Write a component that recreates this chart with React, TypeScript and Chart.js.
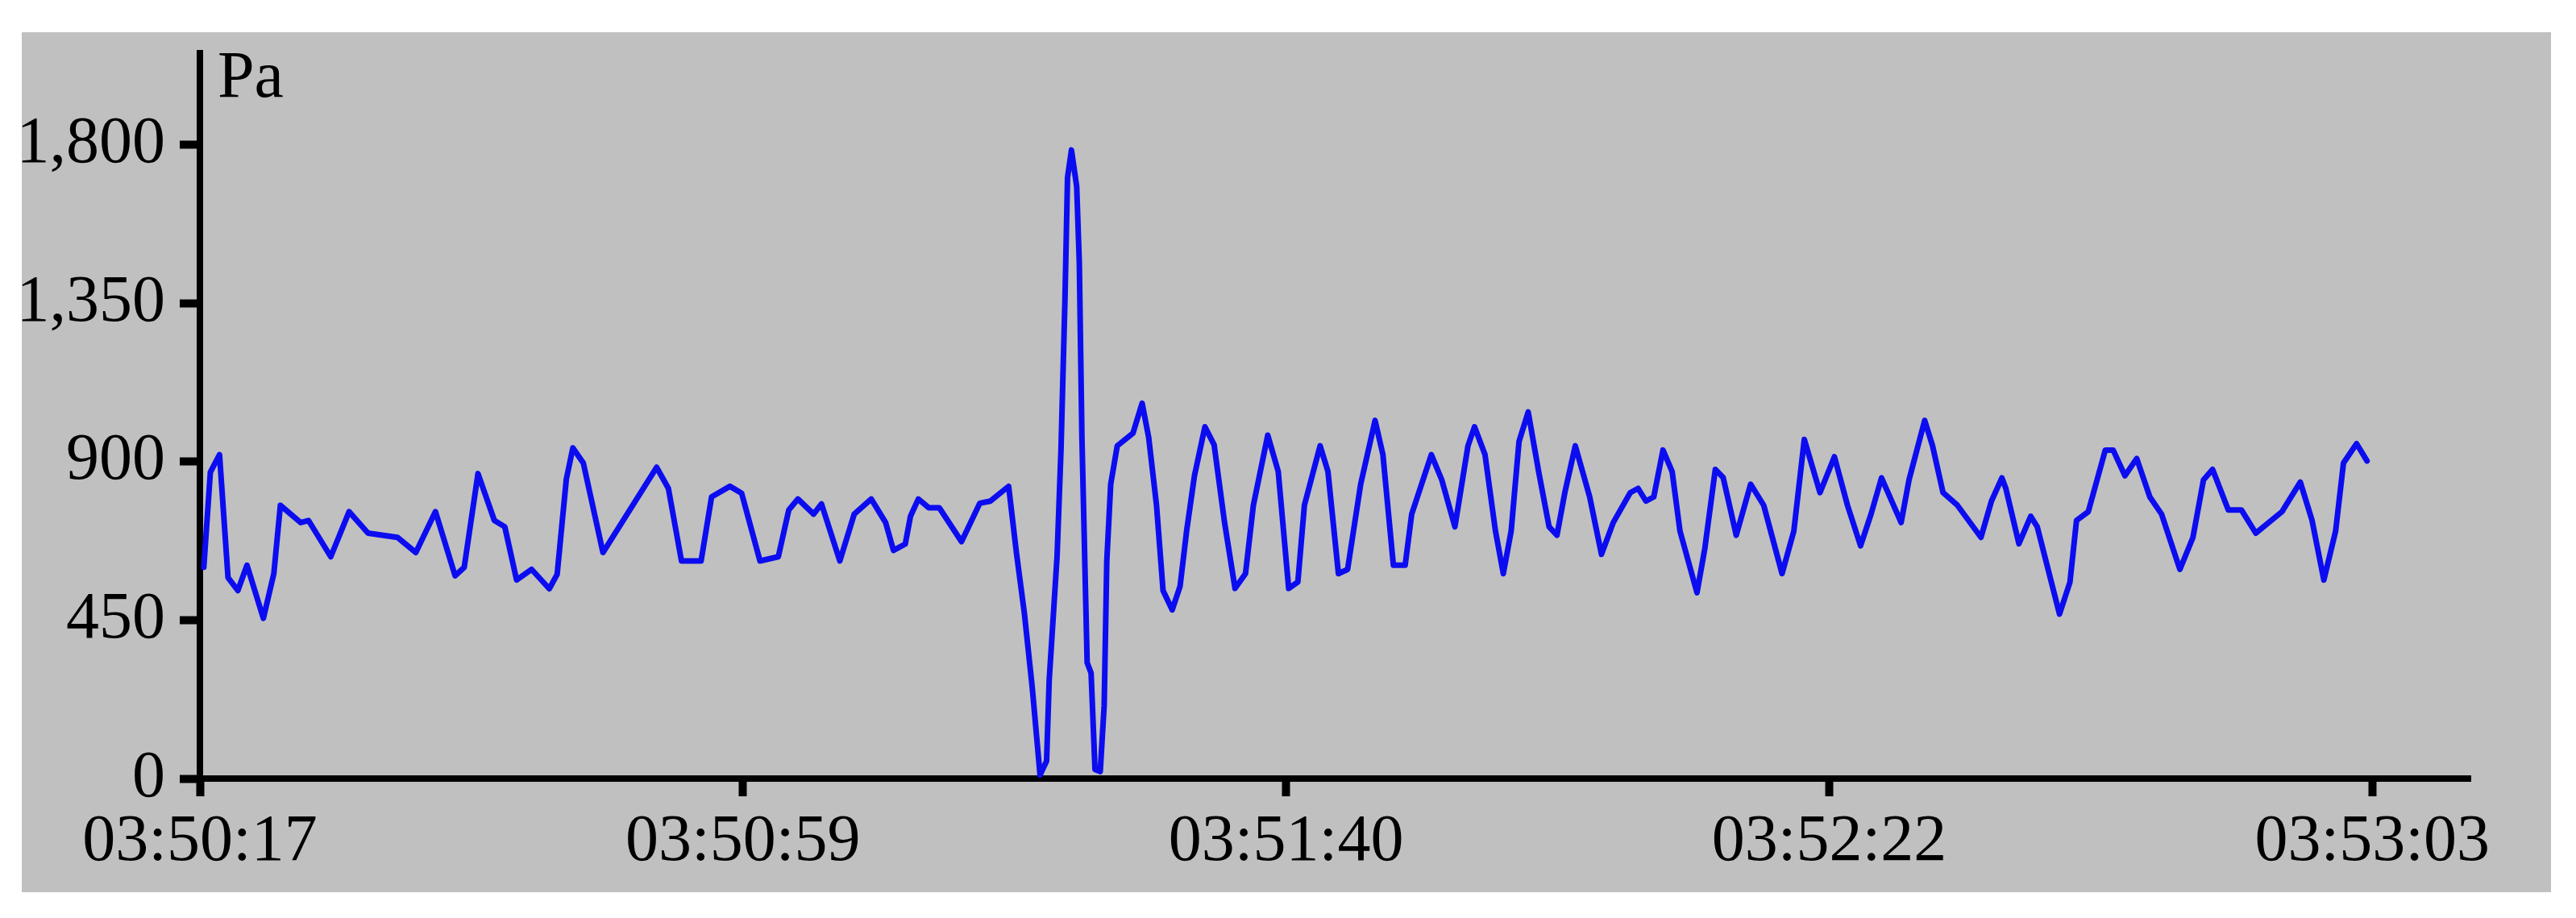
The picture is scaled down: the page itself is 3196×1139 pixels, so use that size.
import React, { useEffect, useRef } from "react";
import { Chart, registerables } from "chart.js";

Chart.register(...registerables);

// Elapsed seconds since 03:50:17
const seconds = [
  0.3, 0.8, 1.5, 2.15, 2.9, 3.6, 4.85, 5.65, 6.15, 7.7, 8.3, 10.0, 11.4, 12.85, 15.1, 16.5,
  18.0, 19.5, 20.2, 21.25, 22.5, 23.3, 24.2, 25.35, 26.7, 27.3, 28.0, 28.5, 29.3, 30.8,
  34.9, 35.8, 36.8, 38.3, 39.1, 40.5, 41.4, 42.8, 44.2, 45.0, 45.7, 46.9, 47.5, 48.9,
  50.0, 51.3, 52.4, 53.0, 53.9, 54.3, 54.9, 55.7, 56.5, 58.2, 59.6, 60.4, 61.8, 62.4,
  63.0, 63.6, 64.2, 64.7, 64.9, 65.5, 65.8, 66.1, 66.3, 66.6, 67.0, 67.2, 67.4, 67.8,
  68.1, 68.4, 68.8, 69.1, 69.3, 69.6, 70.1, 71.3, 72.0, 72.5, 73.1, 73.6, 74.3, 74.9,
  75.4, 76.0, 76.8, 77.5, 78.3, 79.1, 79.9, 80.5, 81.6, 82.4, 83.2, 83.9, 84.4, 85.6,
  86.2, 87.0, 87.7, 88.7, 89.8, 90.4, 91.2, 92.1, 92.6, 94.1, 94.9, 95.9, 96.9, 97.4,
  98.2, 99.0, 99.6, 100.2, 100.8, 101.5, 102.3, 103.1, 103.7, 104.3, 105.1, 106.2, 107.1,
  108.0, 109.3, 109.9, 110.5, 111.1, 111.8, 112.5, 113.1, 114.4, 115.0, 115.8, 116.4,
  117.4, 118.5, 119.5, 120.9, 121.8, 122.6, 123.8, 124.9, 125.9, 126.9, 127.7, 128.5,
  130.0, 130.6, 131.8, 132.4, 133.2, 134.3, 136.1, 136.9, 137.7, 138.0, 139.0, 139.9,
  140.4, 142.1, 142.9, 143.4, 144.3, 145.6, 146.2, 147.1, 148.0, 149.0, 149.9, 151.3,
  152.3, 153.1, 153.8, 155.0, 156.0, 157.1, 159.1, 160.5, 161.4, 162.3, 163.2, 163.8,
  164.8, 165.6,
];

// Pressure in Pa
const pressurePa = [
  600, 870, 920, 571, 534, 606, 455, 582, 776, 727, 733, 630, 758, 697, 685, 642,
  758, 576, 600, 866, 733, 715, 564, 594, 539, 580, 850, 939, 896, 642,
  884, 824, 618, 618, 800, 830, 810, 618, 630, 763, 794, 751, 780, 618,
  751, 794, 727, 648, 666, 745, 794, 769, 769, 673, 782, 788, 830, 640,
  470, 260, 10, 50, 280, 630, 933, 1356, 1707, 1785, 1682, 1465, 969, 329,
  300, 26, 20, 208, 618, 836, 945, 981, 1066, 969, 776, 534, 479, 546,
  703, 860, 999, 948, 727, 540, 582, 776, 975, 872, 540, 558, 776, 945,
  872, 582, 594, 836, 1017, 920, 606, 606, 751, 920, 848, 715, 945, 999,
  920, 703, 582, 703, 957, 1041, 872, 715, 691, 812, 945, 800, 637,
  727, 812, 824, 788, 800, 933, 872, 703, 528, 654, 878, 855,
  691, 836, 776, 582, 703, 963, 812, 914, 776, 661, 751, 854,
  727, 848, 1017, 945, 812, 776, 685, 788, 854, 824, 667, 745,
  715, 467, 558, 733, 758, 933, 933, 860, 909, 800, 751, 594,
  685, 848, 878, 763, 763, 697, 758, 842, 733, 564, 703, 896,
  951, 902,
];

const xTickSeconds = [0, 41.5, 83, 124.5, 166];
const xTickLabels = ["03:50:17", "03:50:59", "03:51:40", "03:52:22", "03:53:03"];
const yTickValues = [0, 450, 900, 1350, 1800];
const yUnit = "Pa";

const FONT = "'Liberation Serif', 'Times New Roman', Times, serif";
const FONT_SIZE = 82;

const unitLabelPlugin = {
  id: "unitLabel",
  afterDraw(chart: any) {
    const { ctx, chartArea } = chart;
    ctx.save();
    ctx.font = `${FONT_SIZE}px ${FONT}`;
    ctx.fillStyle = "#000";
    ctx.textAlign = "left";
    ctx.textBaseline = "alphabetic";
    ctx.fillText(yUnit, chartArea.left + 22, chartArea.top + 54);
    ctx.restore();
  },
};

export default function App() {
  const canvasRef = useRef<HTMLCanvasElement | null>(null);

  useEffect(() => {
    if (!canvasRef.current) return;
    const chart = new Chart(canvasRef.current, {
      type: "line",
      data: {
        datasets: [
          {
            data: seconds.map((s, i) => ({ x: s, y: pressurePa[i] })),
            borderColor: "#0c0cf0",
            borderWidth: 7,
            borderJoinStyle: "round",
            borderCapStyle: "round",
            pointRadius: 0,
            tension: 0,
            fill: false,
          },
        ],
      },
      options: {
        animation: false,
        responsive: false,
        maintainAspectRatio: false,
        layout: { padding: { top: 26, right: 100, left: 0, bottom: 0 } },
        plugins: {
          legend: { display: false },
          tooltip: { enabled: false },
          title: { display: false },
        },
        scales: {
          x: {
            type: "linear",
            min: 0,
            max: 173.5,
            afterBuildTicks: (s: any) => {
              s.ticks = xTickSeconds.map((v) => ({ value: v }));
            },
            afterFit: (s: any) => {
              s.height = 141;
              s.paddingLeft = 0;
              s.paddingRight = 0;
              s.paddingTop = 0;
              s.paddingBottom = 0;
            },
            grid: {
              drawOnChartArea: false,
              drawTicks: true,
              tickLength: 22,
              tickWidth: 10,
              tickColor: "#000",
            },
            border: { display: true, color: "#000", width: 8 },
            ticks: {
              color: "#000",
              font: { family: FONT, size: FONT_SIZE },
              padding: 8,
              maxRotation: 0,
              minRotation: 0,
              autoSkip: false,
              callback: (_v: any, i: number) => xTickLabels[i],
            },
          },
          y: {
            type: "linear",
            min: 0,
            max: 2060,
            afterBuildTicks: (s: any) => {
              s.ticks = yTickValues.map((v) => ({ value: v }));
            },
            afterFit: (s: any) => {
              s.width = 221;
              s.paddingLeft = 0;
              s.paddingRight = 0;
              s.paddingTop = 0;
              s.paddingBottom = 0;
            },
            grid: {
              drawOnChartArea: false,
              drawTicks: true,
              tickLength: 25,
              tickWidth: 10,
              tickColor: "#000",
            },
            border: { display: true, color: "#000", width: 8 },
            ticks: {
              color: "#000",
              font: { family: FONT, size: FONT_SIZE },
              padding: 18,
              autoSkip: false,
              callback: (v: any) => Number(v).toLocaleString("en-US"),
            },
          },
        },
      },
      plugins: [unitLabelPlugin],
    });
    return () => chart.destroy();
  }, []);

  return (
    <div
      style={{
        position: "absolute",
        left: 0,
        top: 0,
        width: 3196,
        height: 1139,
        background: "#ffffff",
        overflow: "hidden",
      }}
    >
      <canvas
        ref={canvasRef}
        width={3138}
        height={1067}
        style={{
          position: "absolute",
          left: 27,
          top: 40,
          width: 3138,
          height: 1067,
          background: "#c0c0c0",
        }}
      />
    </div>
  );
}
